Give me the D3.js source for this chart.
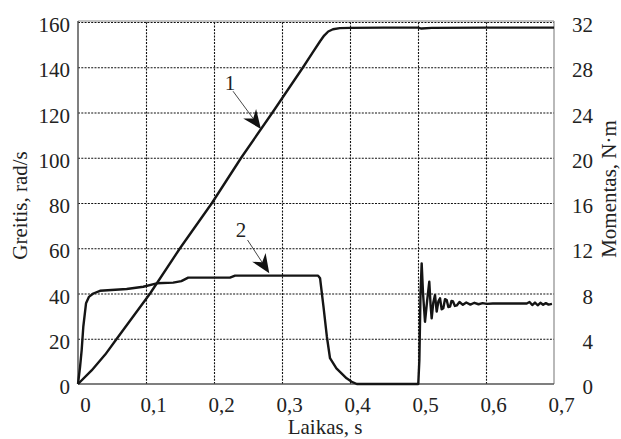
<!DOCTYPE html>
<html>
<head>
<meta charset="utf-8">
<script src="https://cdn.jsdelivr.net/npm/d3@7"></script>
<style>
  html, body { margin: 0; padding: 0; background: #fff; }
  svg { display: block; font-family: "Liberation Serif", "Times New Roman", serif; }
</style>
</head>
<body>
<svg id="chart" width="621" height="439"></svg>
<script>
// Axis ticks and their printed labels (decimal comma)
const timeTicks = [0, 0.1, 0.2, 0.3, 0.4, 0.5, 0.6, 0.7];
const timeTickLabels = ["0", "0,1", "0,2", "0,3", "0,4", "0,5", "0,6", "0,7"];
const speedTicks = [0, 20, 40, 60, 80, 100, 120, 140, 160];
const torqueTicks = [0, 4, 8, 12, 16, 20, 24, 28, 32];

// Curve 1: rotor speed, rad/s
const speedTime = [0, 0.02, 0.04, 0.057, 0.106, 0.15, 0.197, 0.24, 0.286, 0.331,
  0.345, 0.356, 0.362, 0.368, 0.375, 0.385, 0.4, 0.45, 0.5, 0.505, 0.52, 0.6, 0.7];
const speedValues = [0, 6, 13, 20, 40, 60, 80, 100, 120, 140,
  146.5, 151.5, 154, 155.8, 156.8, 157.3, 157.4, 157.5, 157.5, 157.1, 157.4, 157.5, 157.5];

// Curve 2: electromagnetic torque, N·m
const torqueTime = [0, 0.003, 0.0054, 0.0078, 0.0118, 0.016, 0.0225, 0.0324, 0.0716, 0.096,
  0.1157, 0.14, 0.152, 0.162, 0.2235, 0.231, 0.353, 0.356, 0.361, 0.366,
  0.3706, 0.38, 0.395, 0.4025, 0.41, 0.5004, 0.502, 0.5037, 0.5054, 0.5074,
  0.5103, 0.5135, 0.5166, 0.5185, 0.5201, 0.5225, 0.525, 0.5275, 0.53, 0.5324,
  0.5348, 0.5372, 0.5397, 0.5422, 0.5446, 0.5471, 0.5493, 0.5515, 0.5543, 0.557,
  0.561, 0.566, 0.571, 0.577, 0.583, 0.589, 0.595, 0.601,
  0.61, 0.66, 0.664, 0.668, 0.672, 0.676, 0.68, 0.684, 0.688, 0.692, 0.697];
const torqueValues = [0, 1.5, 3.0, 5.06, 7.13, 7.7, 8.0, 8.24, 8.4, 8.6,
  8.9, 8.96, 9.1, 9.4, 9.4, 9.58, 9.58, 9.34, 6.84, 4.18,
  2.28, 1.38, 0.5, 0.2, 0, 0, 2.1, 8.0, 10.66, 8.0,
  5.5, 7.4, 9.04, 7.0, 5.8, 7.2, 7.86, 6.4, 7.3, 7.58,
  6.6, 6.7, 7.5, 7.42, 6.8, 6.84, 7.35, 7.3, 6.9, 6.95,
  7.25, 7.0, 7.2, 7.02, 7.18, 7.05, 7.15, 7.08,
  7.12, 7.12, 7.25, 6.98, 7.2, 6.96, 7.18, 7.0, 7.15, 7.02, 7.08];

// Curve annotations: label position, leader start, arrow tip (data coordinates)
const curveLabels = ["1", "2"];
const labelAt = [[0.2235, 130, "speed"], [0.2397, 12.99, "torque"]];
const leaderFrom = [[0.228, 129.4, "speed"], [0.2493, 12.73, "torque"]];
const leaderTip = [[0.269, 112.7, "speed"], [0.2813, 9.79, "torque"]];

(function draw() {
  const svg = d3.select("#chart");
  const plotLeft = 78, plotRight = 554, plotTop = 22, plotBottom = 384;

  const x = d3.scaleLinear().domain([0, 0.7]).range([plotLeft, plotRight]);
  const ySpeed = d3.scaleLinear().domain([0, 160]).range([plotBottom, plotTop]);
  const yTorque = d3.scaleLinear().domain([0, 32]).range([plotBottom, plotTop]);
  const yFor = k => (k === "speed" ? ySpeed : yTorque);

  const textColor = "#222";
  const fontSize = 21;

  // Dotted grid
  const gridStyle = g => {
    g.select(".domain").remove();
    g.selectAll("text").remove();
    g.selectAll("line")
      .attr("stroke", "#111")
      .attr("stroke-width", 1.1)
      .attr("stroke-dasharray", "2,1.3");
  };
  svg.append("g")
    .attr("transform", `translate(0,${plotBottom})`)
    .call(d3.axisBottom(x).tickValues(timeTicks.slice(1, -1)).tickSize(-(plotBottom - plotTop)).tickFormat(""))
    .call(gridStyle);
  svg.append("g")
    .attr("transform", `translate(${plotLeft},0)`)
    .call(d3.axisLeft(ySpeed).tickValues(speedTicks.slice(1)).tickSize(-(plotRight - plotLeft)).tickFormat(""))
    .call(gridStyle);

  // Frame
  svg.append("line").attr("x1", plotLeft).attr("x2", plotRight).attr("y1", plotTop - 1).attr("y2", plotTop - 1)
    .attr("stroke", "#8a8a8a").attr("stroke-width", 1.2);
  svg.append("line").attr("x1", plotRight).attr("x2", plotRight).attr("y1", plotTop - 1).attr("y2", plotBottom)
    .attr("stroke", "#8a8a8a").attr("stroke-width", 1.2);
  svg.append("line").attr("x1", plotLeft).attr("x2", plotLeft).attr("y1", plotTop - 1).attr("y2", plotBottom)
    .attr("stroke", "#555").attr("stroke-width", 1.5);
  svg.append("line").attr("x1", plotLeft).attr("x2", plotRight).attr("y1", plotBottom).attr("y2", plotBottom)
    .attr("stroke", "#555").attr("stroke-width", 1.5);

  // Tick labels
  const labelStyle = g => {
    g.select(".domain").remove();
    g.selectAll("line").remove();
    g.selectAll("text")
      .attr("fill", textColor)
      .style("font-size", fontSize + "px")
      .style("font-family", '"Liberation Serif", "Times New Roman", serif');
  };
  svg.append("g")
    .attr("transform", `translate(0,${plotBottom})`)
    .call(d3.axisBottom(x).tickValues(timeTicks).tickSize(0).tickFormat((d, i) => timeTickLabels[i]))
    .call(labelStyle)
    .call(g => g.selectAll("text").attr("x", 7).attr("y", 27.5).attr("dy", null));
  svg.append("g")
    .attr("transform", `translate(${plotLeft},0)`)
    .call(d3.axisLeft(ySpeed).tickValues(speedTicks).tickSize(0).tickPadding(8))
    .call(labelStyle)
    .call(g => g.selectAll("text").attr("dy", "0.46em"));
  svg.append("g")
    .attr("transform", `translate(${plotRight},0)`)
    .call(d3.axisRight(yTorque).tickValues(torqueTicks).tickSize(0))
    .call(labelStyle)
    .call(g => g.selectAll("text").attr("x", 39).attr("text-anchor", "end").attr("dy", "0.46em"));

  // Axis titles
  svg.append("text").attr("x", 325).attr("y", 434)
    .attr("text-anchor", "middle").attr("fill", textColor).style("font-size", fontSize + "px")
    .text("Laikas, s");
  svg.append("text").attr("transform", "translate(27,205.5) rotate(-90)")
    .attr("text-anchor", "middle").attr("fill", textColor).style("font-size", fontSize + "px")
    .text("Greitis, rad/s");
  svg.append("text").attr("transform", "translate(616,189) rotate(-90)")
    .attr("text-anchor", "middle").attr("fill", textColor).style("font-size", fontSize + "px")
    .text("Momentas, N·m");

  // Curves
  const curveLine = (ts, vs, y) => d3.line().x((d, i) => x(ts[i])).y((d, i) => y(vs[i]))(vs);
  svg.append("path")
    .attr("d", curveLine(speedTime, speedValues, ySpeed))
    .attr("fill", "none").attr("stroke", "#151515").attr("stroke-width", 2.4)
    .attr("stroke-linejoin", "round");
  svg.append("path")
    .attr("d", curveLine(torqueTime, torqueValues, yTorque))
    .attr("fill", "none").attr("stroke", "#151515").attr("stroke-width", 2.4)
    .attr("stroke-linejoin", "round");

  // Annotations with leader arrows
  curveLabels.forEach((lab, i) => {
    const [lt, lv, lk] = labelAt[i];
    svg.append("text").attr("x", x(lt)).attr("y", yFor(lk)(lv))
      .attr("text-anchor", "middle").attr("fill", textColor).style("font-size", fontSize + "px")
      .text(lab);
    const [ft, fv, fk] = leaderFrom[i];
    const [tt, tv, tk] = leaderTip[i];
    const x0 = x(ft), y0 = yFor(fk)(fv), x1 = x(tt), y1 = yFor(tk)(tv);
    const len = Math.hypot(x1 - x0, y1 - y0);
    const ux = (x1 - x0) / len, uy = (y1 - y0) / len;
    const px = -uy, py = ux;
    const headLen = 19, halfW = 8, notch = 13;
    const bx = x1 - ux * headLen, by = y1 - uy * headLen;
    const nx = x1 - ux * notch, ny = y1 - uy * notch;
    svg.append("line").attr("x1", x0).attr("y1", y0).attr("x2", nx).attr("y2", ny)
      .attr("stroke", "#333").attr("stroke-width", 0.9);
    svg.append("path")
      .attr("d", `M${x1},${y1}L${bx + px * halfW},${by + py * halfW}L${nx},${ny}L${bx - px * halfW},${by - py * halfW}Z`)
      .attr("fill", "#111");
  });
})();
</script>
</body>
</html>
